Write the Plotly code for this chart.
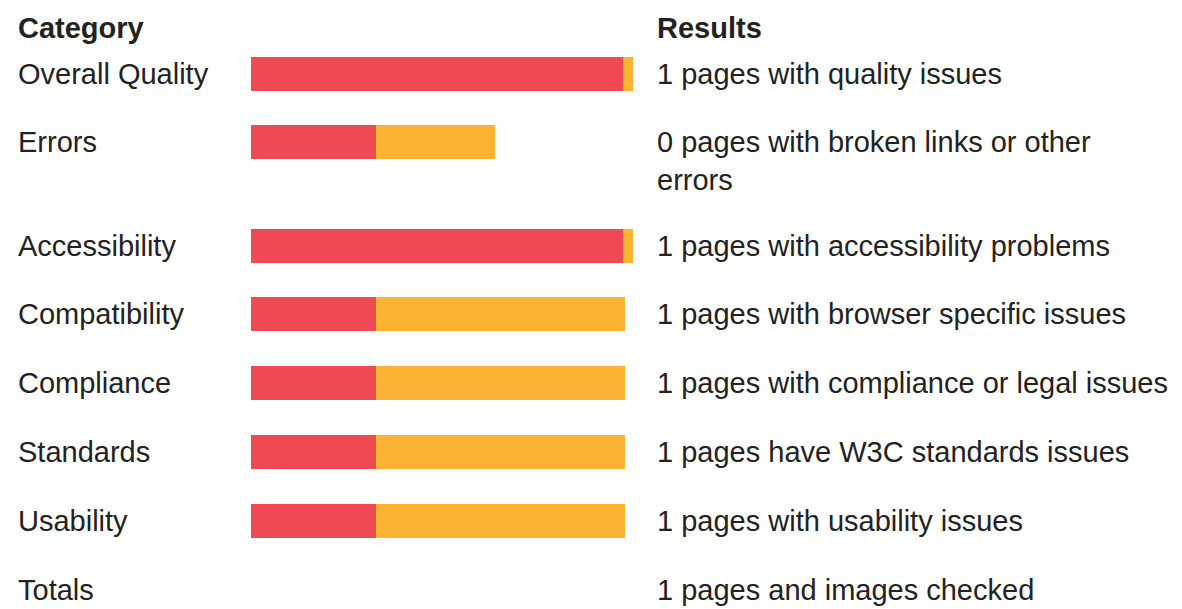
import plotly.graph_objects as go

# ---- data ----
categories = ["Overall Quality", "Errors", "Accessibility", "Compatibility",
              "Compliance", "Standards", "Usability", "Totals"]
red_values = [97.3, 32.7, 97.4, 32.7, 32.7, 32.7, 32.7, None]
yellow_values = [2.6, 31.2, 2.8, 65.2, 65.2, 65.2, 65.2, None]
results = [
    "1 pages with quality issues",
    "0 pages with broken links or other<br>errors",
    "1 pages with accessibility problems",
    "1 pages with browser specific issues",
    "1 pages with compliance or legal issues",
    "1 pages have W3C standards issues",
    "1 pages with usability issues",
    "1 pages and images checked",
]
header_left = "Category"
header_right = "Results"

# ---- layout helpers ----
OFF = 8                       # page body margin
W, H = 1182 - OFF, 609 - OFF
LINE = 34.4                   # pixels per text line unit
FS = 29                       # font size
FONT = "Liberation Sans, Arial, sans-serif"
TXT = "#222222"
RED = "#EF4A53"
YEL = "#FCB232"

# row centres (in line units) derived from number of text lines per row
nlines = [r.count("<br>") + 1 for r in results]
ypos = []
y = (73.5 - OFF) / LINE
for n in nlines:
    ypos.append(y)
    y += n + 1

bar_rows = [i for i, v in enumerate(red_values) if v is not None]

fig = go.Figure()
fig.add_trace(go.Bar(
    y=[ypos[i] for i in bar_rows], x=[red_values[i] for i in bar_rows],
    orientation="h", width=34 / LINE, marker=dict(color=RED, line=dict(width=0)),
    hoverinfo="skip", name="red"))
fig.add_trace(go.Bar(
    y=[ypos[i] for i in bar_rows], x=[yellow_values[i] for i in bar_rows],
    orientation="h", width=34 / LINE, marker=dict(color=YEL, line=dict(width=0)),
    hoverinfo="skip", name="yellow"))

xl = (16 - OFF) / W
xr = (655 - OFF) / W
ann = []
hy = (28 - OFF) / LINE
for xx, t in ((xl, header_left), (xr, header_right)):
    ann.append(dict(x=xx, xref="paper", y=hy, yref="y", text="<b>" + t + "</b>",
                    xanchor="left", yanchor="middle", showarrow=False,
                    font=dict(family=FONT, size=FS, color=TXT)))
for i, cat in enumerate(categories):
    ann.append(dict(x=xl, xref="paper", y=ypos[i], yref="y", text=cat,
                    xanchor="left", yanchor="middle", showarrow=False,
                    font=dict(family=FONT, size=FS, color=TXT)))
    shift = (nlines[i] - 1) * 1.3 * FS / 2 / LINE
    ann.append(dict(x=xr, xref="paper", y=ypos[i] + shift, yref="y", text=results[i],
                    xanchor="left", yanchor="middle", align="left", showarrow=False,
                    font=dict(family=FONT, size=FS, color=TXT)))

fig.update_layout(
    width=W, height=H, margin=dict(l=0, r=0, t=0, b=0),
    paper_bgcolor="white", plot_bgcolor="white",
    barmode="stack", bargap=0, showlegend=False,
    xaxis=dict(domain=[(251 - OFF) / W, (633 - OFF) / W], range=[0, 100],
               visible=False, fixedrange=True),
    yaxis=dict(domain=[0, 1], range=[H / LINE, 0], visible=False, fixedrange=True),
    annotations=ann,
)

fig.write_html("out.html")
